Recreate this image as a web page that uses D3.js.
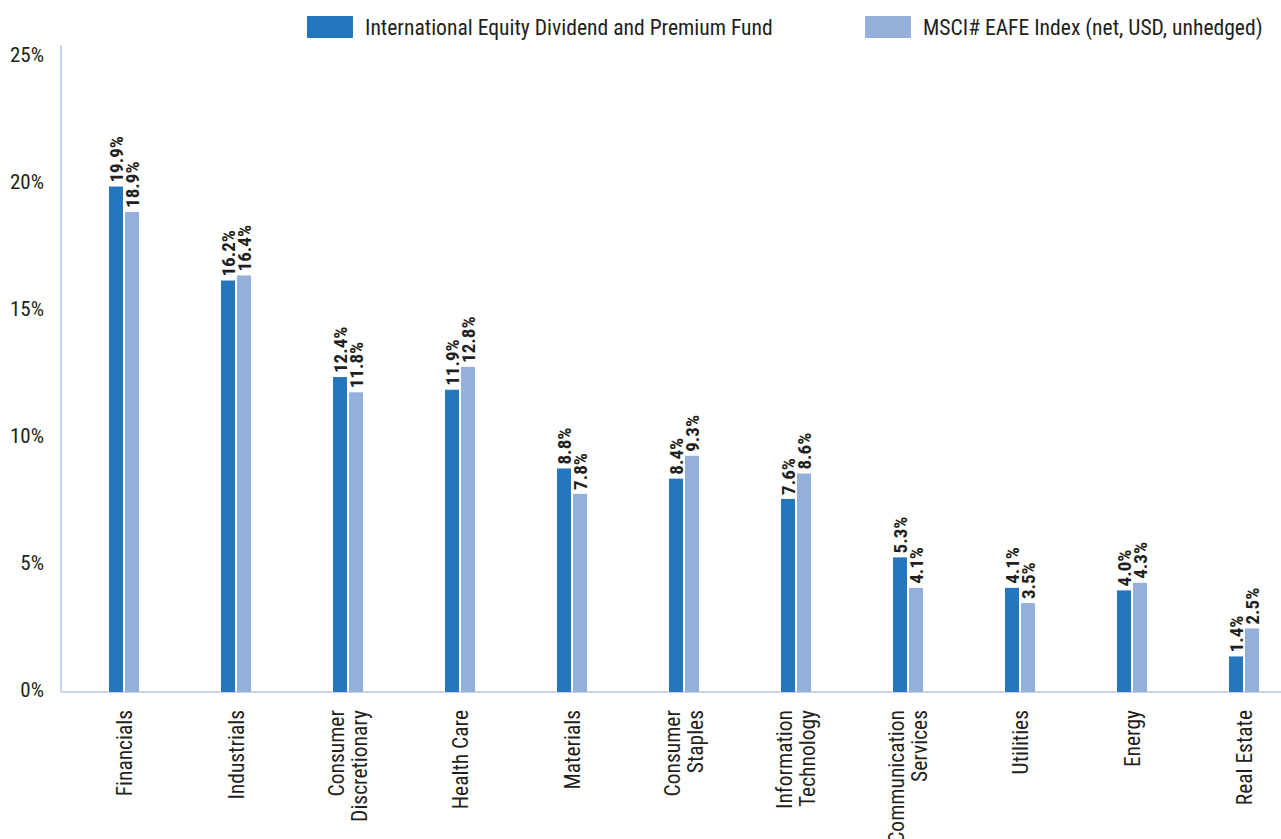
<!DOCTYPE html>
<html>
<head>
<meta charset="utf-8">
<script src="https://cdn.jsdelivr.net/npm/d3@7"></script>
<style>
  body { margin: 0; background: #fff; }
  svg text { font-family: "Liberation Sans Narrow", "Roboto Condensed", "Arial Narrow", sans-serif; fill: #231f20; }
</style>
</head>
<body>
<div id="chart"></div>
<script>
const categories = [
  ["Financials"], ["Industrials"], ["Consumer", "Discretionary"], ["Health Care"],
  ["Materials"], ["Consumer", "Staples"], ["Information", "Technology"],
  ["Communication", "Services"], ["Utilities"], ["Energy"], ["Real Estate"]
];
const seriesNames = ["International Equity Dividend and Premium Fund", "MSCI# EAFE Index (net, USD, unhedged)"];
const fundValues = [19.9, 16.2, 12.4, 11.9, 8.8, 8.4, 7.6, 5.3, 4.1, 4.0, 1.4];
const indexValues = [18.9, 16.4, 11.8, 12.8, 7.8, 9.3, 8.6, 4.1, 3.5, 4.3, 2.5];
const yTicks = [0, 5, 10, 15, 20, 25];
const colors = ["#2476be", "#94afda"];

const width = 1281, height = 839;
const margin = { top: 57, left: 61, bottom: 147 };
const baseY = height - margin.bottom;

const svg = d3.select("#chart").append("svg")
    .attr("width", width)
    .attr("height", height);

const keys = categories.map(d => d.join(" "));
const x0 = d3.scaleBand().domain(keys).range([68, 1300]);
const x1 = d3.scaleBand().domain([0, 1]).range([-15, 15]).paddingInner(0.125);
const y = d3.scaleLinear().domain([0, 25]).range([baseY, margin.top]);

// axis lines
svg.append("line")
    .attr("x1", margin.left).attr("x2", margin.left)
    .attr("y1", 45).attr("y2", baseY)
    .attr("stroke", "#c9d5ee").attr("stroke-width", 2);
svg.append("line")
    .attr("x1", margin.left).attr("x2", width)
    .attr("y1", baseY).attr("y2", baseY)
    .attr("stroke", "#c9d5ee").attr("stroke-width", 2);

// y tick labels
svg.selectAll(".ytick").data(yTicks).enter().append("text")
    .attr("class", "ytick")
    .attr("x", 44)
    .attr("y", d => y(d) - 2)
    .attr("dy", "0.35em")
    .attr("text-anchor", "end")
    .style("font-size", "21px")
    .text(d => d + "%");

const data = keys.map((k, i) => ({ key: k, lines: categories[i], values: [fundValues[i], indexValues[i]] }));

const groups = svg.selectAll(".cat").data(data).enter().append("g")
    .attr("class", "cat")
    .attr("transform", d => `translate(${x0(d.key) + x0.bandwidth() / 2},0)`);

groups.selectAll("rect").data(d => d.values.map((v, s) => ({ v, s }))).enter().append("rect")
    .attr("x", d => x1(d.s))
    .attr("width", x1.bandwidth())
    .attr("y", d => y(d.v))
    .attr("height", d => baseY - y(d.v))
    .attr("fill", d => colors[d.s]);

groups.selectAll(".val").data(d => d.values.map((v, s) => ({ v, s }))).enter().append("text")
    .attr("class", "val")
    .attr("transform", d => `translate(${x1(d.s) + x1.bandwidth() / 2},${y(d.v) - 4}) rotate(-90)`)
    .attr("dy", "0.36em")
    .style("font-size", "19px")
    .style("font-weight", "bold")
    .text(d => d.v.toFixed(1) + "%");

// category labels
groups.each(function(d) {
  const n = d.lines.length;
  d3.select(this).selectAll(".xlab").data(d.lines).enter().append("text")
      .attr("class", "xlab")
      .attr("transform", (t, i) => `translate(${(i - (n - 1) / 2) * 23},${baseY + 18}) rotate(-90)`)
      .attr("dy", "0.35em")
      .attr("text-anchor", "end")
      .style("font-size", "21.5px")
      .text(t => t);
});

// legend
const legendX = [307, 865];
const legend = svg.selectAll(".legend").data(seriesNames).enter().append("g")
    .attr("class", "legend")
    .attr("transform", (d, i) => `translate(${legendX[i]},16)`);
legend.append("rect")
    .attr("width", 46).attr("height", 22)
    .attr("fill", (d, i) => colors[i]);
legend.append("text")
    .attr("x", 58).attr("y", 11)
    .attr("dy", "0.35em")
    .style("font-size", "21.6px")
    .text(d => d);
</script>
</body>
</html>
